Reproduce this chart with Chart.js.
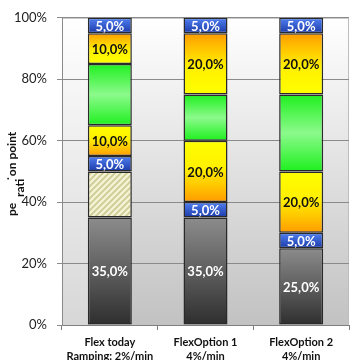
<!DOCTYPE html>
<html>
<head>
<meta charset="utf-8">
<script src="https://cdn.jsdelivr.net/npm/chart.js@4/dist/chart.umd.min.js"></script>
<style>
  html, body { margin: 0; padding: 0; background: #fff; overflow: hidden; }
  #wrap { width: 353px; height: 372px; }
</style>
</head>
<body>
<div id="wrap"><canvas id="chart" width="353" height="372"></canvas></div>
<script>
// categories (two line labels)
var categories = [["Flex today", "Ramping: 2%/min"], ["FlexOption 1", "4%/min"], ["FlexOption 2", "4%/min"]];

// stacked segments, bottom to top (percent of operation point)
var baseLoad   = [35, 35, 25];
var hatched    = [15, 0, 0];
var blueLow    = [5, 5, 5];
var rampDown   = [10, 20, 20];
var greenBand  = [20, 15, 25];
var rampUp     = [10, 20, 20];
var blueHigh   = [5, 5, 5];

var yTicks = [0, 20, 40, 60, 80, 100];

var FONT = "Lato, 'Open Sans', sans-serif";

// gradient over the height of one bar segment
function segmentGradient(stops) {
    return function (ctx) {
        if (ctx.type !== "data") return stops[0][1];
        var chart = ctx.chart;
        var ys = chart.scales.y;
        if (!ys || !chart.chartArea) return stops[0][1];
        var base = 0;
        for (var d = 0; d < ctx.datasetIndex; d++)
            base += chart.data.datasets[d].data[ctx.dataIndex];
        var top = base + chart.data.datasets[ctx.datasetIndex].data[ctx.dataIndex];
        var yTop = ys.getPixelForValue(top);
        var yBot = ys.getPixelForValue(base);
        if (!isFinite(yTop) || !isFinite(yBot) || yTop === yBot) return stops[0][1];
        var g = chart.ctx.createLinearGradient(0, yTop, 0, yBot);
        for (var i = 0; i < stops.length; i++)
            g.addColorStop(stops[i][0], stops[i][1]);
        return g;
    };
}

function hatchPattern() {
    var c = document.createElement("canvas");
    c.width = 6; c.height = 6;
    var x = c.getContext("2d");
    x.fillStyle = "#f3f3d2";
    x.fillRect(0, 0, 6, 6);
    x.strokeStyle = "#cbcb96";
    x.lineWidth = 1.8;
    x.beginPath();
    x.moveTo(-1, 7); x.lineTo(7, -1);
    x.moveTo(-4, 4); x.lineTo(4, -4);
    x.moveTo(2, 10); x.lineTo(10, 2);
    x.stroke();
    return x.createPattern(c, "repeat");
}

var greyFill    = segmentGradient([[0, "#8c8c8c"], [0.5, "#5e5e5e"], [1, "#2e2e2e"]]);
var blueFill    = segmentGradient([[0, "#5080f2"], [1, "#1c3aa8"]]);
var yellowOnTop = segmentGradient([[0, "#ffff00"], [0.45, "#fff000"], [0.75, "#ffc400"], [1, "#ff9a00"]]);
var orangeOnTop = segmentGradient([[0, "#ff9a00"], [0.25, "#ffc400"], [0.55, "#fff000"], [1, "#ffff00"]]);
var greenFill   = segmentGradient([[0, "#1ef01e"], [0.5, "#8cfa8c"], [1, "#1ef01e"]]);

function makeSet(label, data, fill, labelColor) {
    return {
        label: label,
        data: data,
        backgroundColor: fill,
        borderColor: "#2a2a2a",
        borderWidth: 1.5,
        borderSkipped: false,
        barPercentage: 0.92,
        categoryPercentage: 0.5,
        valueLabelColor: labelColor
    };
}

// background of the plot area: grey gradient plus a lighter side wall
var plotBackground = {
    id: "plotBackground",
    beforeDraw: function (chart) {
        var a = chart.chartArea;
        var c = chart.ctx;
        c.save();
        var g = c.createLinearGradient(0, a.top, 0, a.bottom);
        g.addColorStop(0, "#ffffff");
        g.addColorStop(1, "#c2c2c2");
        c.fillStyle = g;
        c.fillRect(a.left, a.top, a.right - a.left, a.bottom - a.top);
        c.fillStyle = "rgba(255,255,255,0.35)";
        c.fillRect(a.left, a.top, 26, a.bottom - a.top);
        c.strokeStyle = "#bdbdbd";
        c.lineWidth = 1;
        c.beginPath();
        c.moveTo(a.left, a.top + 0.5);
        c.lineTo(a.right - 0.5, a.top + 0.5);
        c.lineTo(a.right - 0.5, a.bottom);
        c.stroke();
        c.restore();
    }
};

// value labels inside the segments
var valueLabels = {
    id: "valueLabels",
    afterDatasetsDraw: function (chart) {
        var c = chart.ctx;
        c.save();
        c.font = "bold 13px " + FONT;
        c.textAlign = "center";
        c.textBaseline = "middle";
        chart.data.datasets.forEach(function (ds, di) {
            if (!ds.valueLabelColor) return;
            var meta = chart.getDatasetMeta(di);
            meta.data.forEach(function (bar, i) {
                var v = ds.data[i];
                if (!v) return;
                c.fillStyle = ds.valueLabelColor;
                c.fillText(v.toFixed(1).replace(".", ",") + "%", bar.x, (bar.y + bar.base) / 2 + 1);
            });
        });
        c.restore();
    }
};

// y axis title, drawn rotated as it appears in the source
function rotatedText(c, text, x, y) {
    c.save();
    c.font = "bold 12px " + FONT;
    c.fillStyle = "#111";
    c.textBaseline = "middle";
    c.textAlign = "left";
    c.translate(x, y);
    c.rotate(-Math.PI / 2);
    c.fillText(text, 0, 0);
    c.restore();
}

var yTitle = {
    id: "yTitle",
    afterDraw: function (chart) {
        var c = chart.ctx;
        rotatedText(c, "pe", 12, 216);
        rotatedText(c, "\u02d9on point", 12, 181);
        rotatedText(c, "rati", 20, 197);
    }
};

function initChart() {
    new Chart(document.getElementById("chart"), {
        type: "bar",
        data: {
            labels: categories,
            datasets: [
                makeSet("base", baseLoad, greyFill, "#ffffff"),
                makeSet("hatched", hatched, hatchPattern(), null),
                makeSet("blue low", blueLow, blueFill, "#ffffff"),
                makeSet("ramp down", rampDown, yellowOnTop, "#111111"),
                makeSet("green", greenBand, greenFill, null),
                makeSet("ramp up", rampUp, orangeOnTop, "#111111"),
                makeSet("blue high", blueHigh, blueFill, "#ffffff")
            ]
        },
        options: {
            responsive: false,
            animation: false,
            layout: { padding: { top: 12, right: 4, left: 0, bottom: 0 } },
            plugins: {
                legend: { display: false },
                tooltip: { enabled: false }
            },
            scales: {
                x: {
                    stacked: true,
                    grid: { offset: true, drawOnChartArea: false, color: "#7f7f7f", tickLength: 5 },
                    border: { color: "#7f7f7f" },
                    ticks: {
                        color: "#111",
                        padding: 6,
                        maxRotation: 0,
                        font: { family: FONT, size: 11, weight: "bold", lineHeight: 1.25 }
                    },
                    afterFit: function (scale) { scale.height = 47; }
                },
                y: {
                    stacked: true,
                    min: 0,
                    max: 100,
                    afterBuildTicks: function (scale) {
                        scale.ticks = yTicks.map(function (v) { return { value: v }; });
                    },
                    grid: { color: "#8a8a8a", tickLength: 5 },
                    border: { color: "#8a8a8a" },
                    ticks: {
                        color: "#222",
                        padding: 10,
                        font: { family: FONT, size: 13 },
                        callback: function (v) { return v + "%"; }
                    },
                    afterFit: function (scale) { scale.width = 62; }
                }
            }
        },
        plugins: [plotBackground, valueLabels, yTitle]
    });
}

initChart();
</script>
</body>
</html>
